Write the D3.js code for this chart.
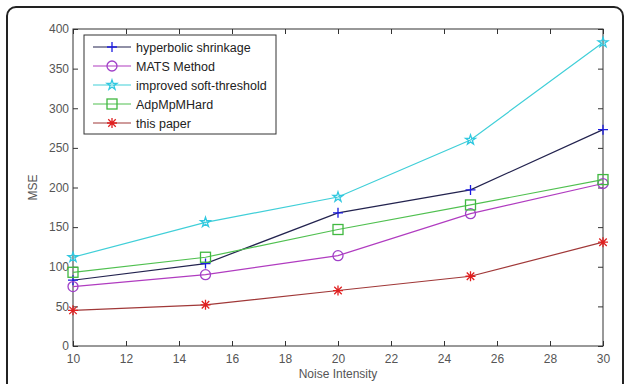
<!doctype html>
<html lang="en">
<head>
	<meta charset="utf-8" />
	<title>MSE vs Noise Intensity</title>
	<script src="https://cdn.jsdelivr.net/npm/d3@7"></script>
	<style>
		body { margin: 0; background: #fff; }
		svg { display: block; font-family: "Liberation Sans", Arial, sans-serif; }
		.tick text { fill: #555; font-size: 12px; }
		.legend text { font-size: 12.5px; fill: #222; }
	</style>
</head>
<body>
	<svg width="624" height="384"></svg>
	<script>
		// noise levels on the x axis
		var noise = [10, 15, 20, 25, 30];

		// MSE per method
		var hyperbolic = [83, 104, 168, 197, 273];
		var mats = [75, 90, 114, 167, 205];
		var softThresh = [112, 156, 188, 260, 383];
		var adpMpm = [93, 112, 147, 178, 210];
		var thisPaper = [45, 52, 70, 88, 131];

		var seriesNames = ["hyperbolic shrinkage", "MATS Method", "improved soft-threshold", "AdpMpMHard", "this paper"];
		var xTicks = [10, 12, 14, 16, 18, 20, 22, 24, 26, 28, 30];
		var yTicks = [0, 50, 100, 150, 200, 250, 300, 350, 400];

		var series = [
			{ name: seriesNames[0], vals: hyperbolic, line: "#23234f", mark: "#1c1ce0", sym: "plus" },
			{ name: seriesNames[1], vals: mats, line: "#b03cc0", mark: "#a040c8", sym: "circle" },
			{ name: seriesNames[2], vals: softThresh, line: "#40cfd8", mark: "#30c8e0", sym: "star" },
			{ name: seriesNames[3], vals: adpMpm, line: "#50c050", mark: "#40b840", sym: "square" },
			{ name: seriesNames[4], vals: thisPaper, line: "#a03838", mark: "#e02020", sym: "asterisk" }
		];

		var svg = d3.select("svg");
		var plotL = 73, plotR = 603, plotT = 29, plotB = 346;

		// outer frame with rounded corners
		svg.append("rect")
			.attr("x", 7).attr("y", 7)
			.attr("width", 616).attr("height", 420)
			.attr("rx", 9)
			.attr("fill", "none")
			.attr("stroke", "#222")
			.attr("stroke-width", 2);

		var x = d3.scaleLinear().domain([10, 30]).range([plotL, plotR]);
		var y = d3.scaleLinear().domain([0, 400]).range([plotB, plotT]);

		function styleAxis(g) {
			g.selectAll("path, line").attr("stroke", "#333");
			g.selectAll(".domain").remove();
		}

		svg.append("g")
			.attr("transform", "translate(0," + plotB + ")")
			.call(d3.axisBottom(x).tickValues(xTicks).tickSizeInner(-5).tickSizeOuter(0).tickPadding(8))
			.call(styleAxis);
		svg.append("g")
			.attr("transform", "translate(0," + plotT + ")")
			.call(d3.axisTop(x).tickValues(xTicks).tickSizeInner(-5).tickFormat(""))
			.call(styleAxis);
		svg.append("g")
			.attr("transform", "translate(" + plotL + ",0)")
			.call(d3.axisLeft(y).tickValues(yTicks).tickSizeInner(-5).tickPadding(4))
			.call(styleAxis);
		svg.append("g")
			.attr("transform", "translate(" + plotR + ",0)")
			.call(d3.axisRight(y).tickValues(yTicks).tickSizeInner(-5).tickFormat(""))
			.call(styleAxis);

		svg.selectAll(".tick text").attr("font-size", 12).attr("font-family", "Liberation Sans, Arial, sans-serif");

		// plot box
		svg.append("rect")
			.attr("x", plotL).attr("y", plotT)
			.attr("width", plotR - plotL).attr("height", plotB - plotT)
			.attr("fill", "none").attr("stroke", "#333").attr("stroke-width", 1);

		svg.append("text")
			.attr("x", 338).attr("y", 378)
			.attr("text-anchor", "middle")
			.attr("font-size", 12).attr("fill", "#555")
			.text("Noise Intensity");
		svg.append("text")
			.attr("transform", "translate(37," + ((plotT + plotB) / 2) + ") rotate(-90)")
			.attr("text-anchor", "middle")
			.attr("font-size", 12).attr("fill", "#555")
			.text("MSE");

		function drawMarker(g, sym, color, cx, cy) {
			var s = 5;
			if (sym === "plus") {
				g.append("path").attr("d", "M" + (cx - s) + "," + cy + "H" + (cx + s) + "M" + cx + "," + (cy - s) + "V" + (cy + s))
					.attr("stroke", color).attr("stroke-width", 1.3);
			} else if (sym === "circle") {
				g.append("circle").attr("cx", cx).attr("cy", cy).attr("r", s)
					.attr("fill", "none").attr("stroke", color).attr("stroke-width", 1.3);
			} else if (sym === "square") {
				g.append("rect").attr("x", cx - s).attr("y", cy - s).attr("width", 2 * s).attr("height", 2 * s)
					.attr("fill", "none").attr("stroke", color).attr("stroke-width", 1.3);
			} else if (sym === "star") {
				g.append("path").attr("d", d3.symbol().type(d3.symbolStar).size(30)())
					.attr("transform", "translate(" + cx + "," + cy + ")")
					.attr("fill", "none").attr("stroke", color).attr("stroke-width", 1.3);
			} else {
				var a = s * 0.75, d = "M" + (cx - s) + "," + cy + "H" + (cx + s) + "M" + cx + "," + (cy - s) + "V" + (cy + s) +
					"M" + (cx - a) + "," + (cy - a) + "L" + (cx + a) + "," + (cy + a) + "M" + (cx - a) + "," + (cy + a) + "L" + (cx + a) + "," + (cy - a);
				g.append("path").attr("d", d).attr("stroke", color).attr("stroke-width", 1.3);
			}
		}

		var line = d3.line().x(function (d, i) { return x(noise[i]); }).y(function (d) { return y(d); });

		series.forEach(function (s) {
			var g = svg.append("g");
			g.append("path").datum(s.vals).attr("d", line)
				.attr("fill", "none").attr("stroke", s.line).attr("stroke-width", 1.2);
			s.vals.forEach(function (v, i) { drawMarker(g, s.sym, s.mark, x(noise[i]), y(v)); });
		});

		// legend
		var lg = svg.append("g").attr("class", "legend");
		lg.append("rect").attr("x", 84).attr("y", 35).attr("width", 192).attr("height", 99)
			.attr("fill", "#fff").attr("stroke", "#333").attr("stroke-width", 1);
		series.forEach(function (s, i) {
			var ly = 47 + i * 19;
			lg.append("line").attr("x1", 93).attr("x2", 131).attr("y1", ly).attr("y2", ly)
				.attr("stroke", s.line).attr("stroke-width", 1.2);
			drawMarker(lg, s.sym, s.mark, 112, ly);
			lg.append("text").attr("x", 136).attr("y", ly + 4.5).text(s.name);
		});
	</script>
</body>
</html>
